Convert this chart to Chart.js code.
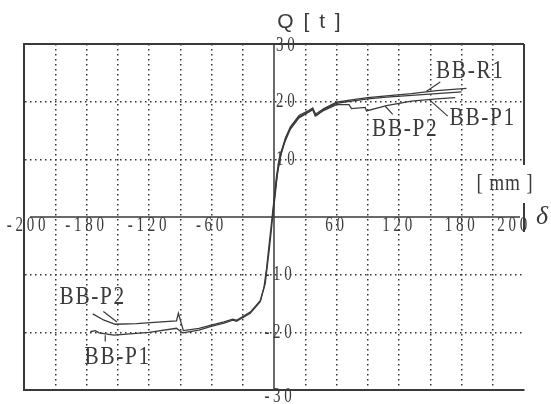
<!DOCTYPE html>
<html>
<head>
<meta charset="utf-8">
<script src="https://cdn.jsdelivr.net/npm/chart.js@4.4.1/dist/chart.umd.min.js"></script>
<style>
  html, body { margin: 0; padding: 0; background: #fff; }
  #wrap { width: 551px; height: 404px; }
</style>
</head>
<body>
<div id="wrap"><canvas id="chart" width="551" height="404"></canvas></div>
<script>
// load-displacement curves, delta (grid units) vs Q [t]
const r1X = [-1, 1, 3, 6, 9, 13, 20, 28, 31, 33, 40, 50, 62, 75, 90, 110, 130, 154];
const r1Q = [0, 4, 8, 11.2, 13.6, 15.6, 17.6, 18.5, 18.9, 17.8, 18.8, 19.9, 20.3, 20.7, 21.0, 21.4, 21.9, 22.3];

const p1X = [-147, -143, -140, -128, -100, -78, -73, -60, -51, -40, -33, -30, -19, -11, -8, -6, -4, -2, 0, 2, 4, 7, 10, 14, 20, 28, 31, 34, 40, 50, 62, 75, 90, 110, 130, 150];
const p1Q = [-19.9, -19.7, -20.1, -20.5, -20.0, -19.3, -20.1, -19.6, -19.0, -18.4, -17.9, -18.1, -16.7, -14.7, -12.2, -9, -5, -1, 3, 7, 10, 12.2, 14.0, 15.8, 17.4, 18.3, 18.7, 17.6, 18.7, 19.7, 20.1, 20.5, 20.8, 21.1, 21.4, 21.7];

const p2X = [-145, -136, -127, -110, -90, -78, -76.5, -72.5, -60, -51, -40, -33, -30, -19, -11, -7, -4, -2, 0, 2, 5, 9, 13, 20, 28, 31, 33, 40, 50, 60, 62, 73, 74, 90, 110, 130, 145];
const p2Q = [-16.8, -17.9, -18.6, -18.5, -18.2, -18.0, -16.7, -19.7, -19.3, -18.8, -18.2, -17.7, -17.9, -16.5, -14.5, -11.5, -6, -2, 2.5, 6.5, 10.5, 13.2, 15.2, 17.2, 18.2, 18.6, 17.5, 18.5, 19.5, 19.5, 18.8, 19.0, 18.4, 19.3, 20.1, 20.5, 20.7];

// tick labels as printed on the original (positions every 50 grid units)
const xTickVals = [-200, -150, -100, -50, 50, 100, 150, 200];
const xTickText = ['-200', '-180', '-120', '-60', '60', '120', '180', '200'];
const yTickVals = [30, 20, 10, -10, -20, -30];
const yTickText = ['30', '20', '10', '-10', '-20', '-30'];

// curve labels and their leader lines, in data units
const labelText = ['BB-R1', 'BB-P1', 'BB-P2', 'BB-P2', 'BB-P1'];
const labelX = [157, 167, 105, -145, -125];
const labelQ = [25.3, 17.2, 15.2, -13.9, -24.3];
const leaders = [
  [122, 21.8, 133, 23.4],
  [124, 20.4, 139, 17.5],
  [89, 19.2, 95, 17.8],
  [-136.5, -16.4, -125.6, -18.2],
  [-135, -20.5, -135, -21.6]
];

const INK = '#3a3a3a';

function pts(xs, ys) {
  return xs.map((x, i) => ({ x: x, y: ys[i] }));
}

function text(ctx, str, x, y, font, sx, align, spacing) {
  ctx.save();
  ctx.translate(x, y);
  ctx.scale(sx, 1);
  ctx.font = font;
  ctx.textAlign = align || 'center';
  ctx.textBaseline = 'middle';
  if ('letterSpacing' in ctx) ctx.letterSpacing = spacing || '0px';
  ctx.fillStyle = INK;
  ctx.fillText(str, 0, 0);
  ctx.restore();
}

const decor = {
  id: 'decor',
  afterDraw(chart) {
    const ctx = chart.ctx;
    const xs = chart.scales.x, ys = chart.scales.y;
    const a = chart.chartArea;
    ctx.save();
    ctx.strokeStyle = INK;
    ctx.lineCap = 'butt';

    // top frame + partial right frame
    ctx.lineWidth = 2;
    ctx.beginPath();
    ctx.moveTo(a.left, a.top); ctx.lineTo(a.right, a.top);
    ctx.moveTo(a.right, a.top); ctx.lineTo(a.right, 165);
    ctx.moveTo(a.right, 203); ctx.lineTo(a.right, 232);
    ctx.stroke();

    // axes through origin
    const x0 = xs.getPixelForValue(0), y0 = ys.getPixelForValue(0);
    ctx.lineWidth = 1.5;
    ctx.beginPath();
    ctx.moveTo(a.left + 6, y0); ctx.lineTo(a.right - 4, y0);
    ctx.moveTo(x0, a.top); ctx.lineTo(x0, a.bottom);
    ctx.stroke();

    // leader lines
    ctx.lineWidth = 1.2;
    leaders.forEach(l => {
      ctx.beginPath();
      ctx.moveTo(xs.getPixelForValue(l[0]), ys.getPixelForValue(l[1]));
      ctx.lineTo(xs.getPixelForValue(l[2]), ys.getPixelForValue(l[3]));
      ctx.stroke();
    });
    ctx.restore();

    const tickFont = '20px "Liberation Serif"';
    xTickVals.forEach((v, i) => {
      let px = xs.getPixelForValue(v);
      if (v === 200) px -= 10;
      if (v === -200) px += 4;
      text(ctx, xTickText[i], px, y0 + 9, tickFont, 0.75, 'center', '5px');
    });
    yTickVals.forEach((v, i) => {
      let py = ys.getPixelForValue(v);
      if (v === -30) py += 7;
      if (v === 30) py += 2;
      if (v > 0) text(ctx, yTickText[i], x0 + 2, py, tickFont, 0.75, 'left', '5px');
      else text(ctx, yTickText[i], x0 + 6, py, tickFont, 0.75, 'center', '5px');
    });

    labelText.forEach((t, i) => {
      text(ctx, t, xs.getPixelForValue(labelX[i]), ys.getPixelForValue(labelQ[i]),
        '26px "Liberation Serif"', 0.82, 'center', '2px');
    });

    text(ctx, 'Q [ t ]', 310, 22, '21px "Liberation Sans"', 1, 'center', '2px');
    text(ctx, '[ mm ]', 505, 184, '24px "Liberation Serif"', 0.8, 'center', '1px');
    text(ctx, 'δ', 542, 217, 'italic 26px "Liberation Serif"', 1, 'center', '0px');
  }
};

const lineStyle = {
  showLine: true,
  borderColor: INK,
  borderWidth: 1.3,
  pointRadius: 0,
  tension: 0,
  fill: false
};

new Chart(document.getElementById('chart'), {
  type: 'scatter',
  data: {
    datasets: [
      Object.assign({ label: 'BB-R1', data: pts(r1X, r1Q) }, lineStyle),
      Object.assign({ label: 'BB-P1', data: pts(p1X, p1Q) }, lineStyle),
      Object.assign({ label: 'BB-P2', data: pts(p2X, p2Q) }, lineStyle)
    ]
  },
  options: {
    responsive: false,
    animation: false,
    layout: { padding: { left: 24, right: 27, top: 44, bottom: 14 } },
    plugins: { legend: { display: false }, tooltip: { enabled: false } },
    scales: {
      x: {
        type: 'linear', min: -200, max: 200,
        ticks: { display: false, stepSize: 25 },
        grid: {
          drawTicks: false,
          color: c => (c.tick && (c.tick.value === 0 || Math.abs(c.tick.value) === 200)) ? 'rgba(0,0,0,0)' : '#333',
          lineWidth: 1.5
        },
        border: { display: true, color: INK, width: 2, dash: [1.5, 3.5] }
      },
      y: {
        type: 'linear', min: -30, max: 30,
        ticks: { display: false, stepSize: 10 },
        grid: {
          drawTicks: false,
          color: c => (c.tick && (c.tick.value === 0 || Math.abs(c.tick.value) === 30)) ? 'rgba(0,0,0,0)' : '#333',
          lineWidth: 1.5
        },
        border: { display: true, color: INK, width: 2, dash: [1.5, 3.5] }
      }
    }
  },
  plugins: [decor]
});
</script>
</body>
</html>
